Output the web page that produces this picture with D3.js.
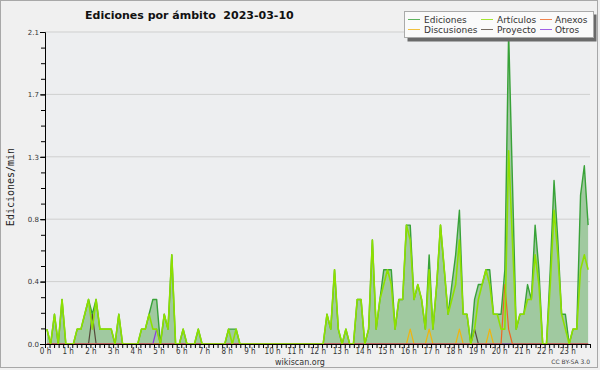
<!DOCTYPE html>
<html><head><meta charset="utf-8">
<script src="https://cdn.jsdelivr.net/npm/d3@7"></script>
<style>body{margin:0;background:#f0f0f0} svg{display:block} text{white-space:pre}</style>
</head><body><svg id="c" width="600" height="370"></svg>
<script>
const title = "Ediciones por ámbito  2023-03-10";
const yTitle = "Ediciones/min";
const seriesNames = ["Ediciones","Artículos","Anexos","Discusiones","Proyecto","Otros"];
const hourLabels = ["0 h","1 h","2 h","3 h","4 h","5 h","6 h","7 h","8 h","9 h","10 h","11 h","12 h","13 h","14 h","15 h","16 h","17 h","18 h","19 h","20 h","21 h","22 h","23 h"];
const yTickLabels = ["0.0","0.4","0.8","1.3","1.7","2.1"];
const yMax = 2.1;
// 10-minute bins, edits per minute (144 values)
const ediciones = [
0.1,0,0.2,0,0.3,0,0,0,0.1,0.1,
0.2,0.3,0.2,0.3,0.1,0.1,0.1,0.1,0,0.2,
0,0,0,0,0,0.1,0.1,0.2,0.3,0.3,
0,0.2,0.1,0.6,0,0,0.1,0,0,0,
0.1,0,0,0,0,0,0,0,0.1,0.1,
0.1,0,0,0,0,0,0,0,0,0,
0,0,0,0,0,0,0,0,0,0,
0,0,0,0,0.2,0.1,0.5,0.1,0,0.1,
0,0,0.3,0.3,0,0.1,0.7,0.1,0.3,0.5,
0.5,0.5,0.1,0.3,0.3,0.8,0.8,0.3,0.4,0.3,
0.1,0.6,0.1,0.4,0.8,0.5,0.2,0.4,0.6,0.9,
0.2,0.2,0,0.3,0.4,0.4,0.5,0.5,0.2,0.2,
0.2,0.5,2.1,1.1,0.1,0.2,0.2,0.4,0.3,0.8,
0.5,0,0,0.5,1.1,0.7,0.2,0.2,0,0.1,
0.1,1.0,1.2,0.8];
const articulos = [
0.1,0,0.2,0,0.3,0,0,0,0.1,0.1,
0.2,0.3,0.1,0.3,0.1,0.1,0.1,0.1,0,0.2,
0,0,0,0,0,0.1,0.1,0.2,0.1,0.1,
0,0.2,0.1,0.6,0,0,0.1,0,0,0,
0.1,0,0,0,0,0,0,0,0.1,0,
0.1,0,0,0,0,0,0,0,0,0,
0,0,0,0,0,0,0,0,0,0,
0,0,0,0,0.2,0.1,0.5,0.1,0,0.1,
0,0,0.3,0.3,0,0.1,0.7,0.1,0.3,0.4,
0.5,0.4,0.1,0.3,0.3,0.8,0.7,0.3,0.4,0.3,
0.1,0.5,0.1,0.4,0.8,0.5,0.2,0.3,0.4,0.7,
0.2,0.2,0,0.1,0.3,0.4,0.5,0.4,0.2,0.2,
0.1,0.1,1.3,0.7,0.1,0.2,0.2,0.3,0.3,0.6,
0.4,0,0,0.4,0.9,0.6,0.2,0.1,0,0.1,
0.1,0.5,0.6,0.5];
const anexos = [
0,0,0,0,0,0,0,0,0,0, 0,0,0,0,0,0,0,0,0,0, 0,0,0,0,0,0,0,0,0,0, 0,0,0,0,0,0,0,0,0,0,
0,0,0,0,0,0,0,0,0,0, 0,0,0,0,0,0,0,0,0,0, 0,0,0,0,0,0,0,0,0,0, 0,0,0,0,0,0,0,0,0,0,
0,0,0,0,0,0,0,0,0,0, 0,0,0,0,0,0,0,0,0,0, 0,0,0,0,0,0,0,0,0,0, 0,0,0,0,0,0,0,0,0,0,
0,0.4,0.1,0,0,0,0,0,0,0, 0,0,0,0,0,0,0,0,0,0, 0,0,0,0];
const discusiones = [
0,0,0,0,0,0,0,0,0,0, 0,0,0,0,0,0,0,0,0,0, 0,0,0,0,0,0,0,0,0,0, 0,0,0,0,0,0,0,0,0,0,
0,0,0,0,0,0,0,0,0,0, 0,0,0,0,0,0,0,0,0,0, 0,0,0,0,0,0,0,0,0,0, 0,0,0,0,0,0,0,0,0,0,
0,0,0,0,0,0,0,0,0,0, 0,0,0,0,0,0,0.1,0,0,0, 0,0.1,0,0,0,0,0,0,0,0.1, 0,0,0,0,0,0,0,0.1,0,0,
0,0,0,0,0,0,0,0,0,0, 0,0,0,0,0,0,0,0,0,0, 0,0,0,0];
const proyecto = [
0,0,0,0,0,0,0,0,0,0, 0,0,0.2,0,0,0,0,0,0,0, 0,0,0,0,0,0,0,0,0,0, 0,0,0,0,0,0,0,0,0,0,
0,0,0,0,0,0,0,0,0,0, 0,0,0,0,0,0,0,0,0,0, 0,0,0,0,0,0,0,0,0,0, 0,0,0,0,0,0,0,0,0,0,
0,0,0,0,0,0,0,0,0,0, 0,0,0,0,0,0,0,0,0,0, 0,0,0,0,0,0,0,0,0,0, 0,0,0,0.1,0,0,0,0,0,0,
0,0,0,0,0,0,0,0,0,0, 0,0,0,0,0,0,0,0,0,0, 0,0,0,0];
const otros = [
0,0,0,0,0,0,0,0,0,0, 0,0,0,0,0,0,0,0,0,0, 0,0,0,0,0,0,0,0,0,0.1, 0,0,0,0,0,0,0,0,0,0,
0,0,0,0,0,0,0,0,0,0, 0,0,0,0,0,0,0,0,0,0, 0,0,0,0,0,0,0,0,0,0, 0,0,0,0,0,0,0,0,0,0,
0,0,0,0,0,0,0,0,0,0, 0,0,0,0,0,0,0,0,0,0, 0,0,0,0,0,0,0,0,0,0, 0,0,0,0,0,0,0,0,0,0,
0,0,0,0,0,0,0,0,0,0, 0,0,0,0,0,0,0,0,0,0, 0,0,0,0];

const colors = {Ediciones:"#38a238", Artículos:"#8ee000", Anexos:"#ee6622", Discusiones:"#f0b410", Proyecto:"#55483a", Otros:"#8a3ae0"};
const fillColor = "#a0c9a0";

const svg = d3.select("#c");
const L=45, R=590, T=32, B=344;
const x = d3.scaleLinear().domain([0,24]).range([L,R]);
const y = d3.scaleLinear().domain([0,yMax]).range([B,T]);
const binH = 1/6;

svg.append("rect").attr("x",0.5).attr("y",0.5).attr("width",597).attr("height",367)
  .attr("fill","#f0f0f0").attr("stroke","#a8a8a8");
svg.append("rect").attr("x",L).attr("y",T).attr("width",R-L).attr("height",B-T).attr("fill","#edeef0");

const majorVals = yTickLabels.map((_,k)=>yMax*k/(yTickLabels.length-1));
svg.append("g").selectAll("line").data(majorVals.slice(1)).join("line")
  .attr("x1",L).attr("x2",R).attr("y1",d=>y(d)).attr("y2",d=>y(d))
  .attr("stroke","#cfcfcf").attr("stroke-width",1);

const series = {Ediciones:ediciones, Artículos:articulos, Anexos:anexos, Discusiones:discusiones, Proyecto:proyecto, Otros:otros};
const px = (d,i)=>x((i+0.5)*binH);
const area = d3.area().x(px).y0(B).y1(d=>y(d));
const line = d3.line().x(px).y(d=>y(d));

svg.append("path").datum(ediciones).attr("d",area).attr("fill",fillColor);
const drawOrder = ["Ediciones","Discusiones","Proyecto","Otros","Anexos","Artículos"];
drawOrder.forEach(n=>{
  svg.append("path").datum(series[n]).attr("d",line).attr("fill","none")
    .attr("stroke",colors[n]).attr("stroke-width", n==="Artículos"?1.6:(n==="Ediciones"?1.4:1.2))
    .attr("stroke-linejoin","round");
});

// y axis
const minorY = d3.range(0,21).map(k=>yMax*k/20);
svg.append("g").attr("transform",`translate(${L},0)`)
  .call(d3.axisLeft(y).tickValues(minorY).tickSize(4).tickFormat(""))
  .call(g=>g.select(".domain").remove());
svg.append("g").attr("transform",`translate(${L},0)`)
  .call(d3.axisLeft(y).tickValues(majorVals).tickSize(5).tickPadding(1).tickFormat((d,i)=>yTickLabels[i]))
  .call(g=>{g.select(".domain").attr("stroke","#000");
    g.selectAll("text").attr("font-family","DejaVu Sans").attr("font-size","7px").attr("fill","#333");});

// x axis
const minorX = d3.range(0,121).map(k=>k/5);
svg.append("g").attr("transform",`translate(0,${B})`)
  .call(d3.axisBottom(x).tickValues(minorX).tickSize(4).tickFormat(""))
  .call(g=>g.select(".domain").attr("stroke","#000"));
svg.append("g").attr("transform",`translate(0,${B})`)
  .call(d3.axisBottom(x).tickValues(d3.range(24)).tickSize(0).tickPadding(4).tickFormat(i=>hourLabels[i]))
  .call(g=>{g.select(".domain").remove();
    g.selectAll("text").attr("font-family","'DejaVu Sans Condensed','DejaVu Sans'").attr("font-size","8px").attr("fill","#333");});

// texts
svg.append("text").attr("x",85).attr("y",18.5).attr("xml:space","preserve").text(title)
  .attr("font-family","DejaVu Sans").attr("font-weight","bold").attr("font-size","11px").attr("fill","#111");
svg.append("text").attr("transform","translate(13.5,187) rotate(-90)").attr("text-anchor","middle")
  .text(yTitle).attr("font-family","DejaVu Sans Mono").attr("font-size","10px").attr("fill","#222");
svg.append("text").attr("x",300).attr("y",364.5).attr("text-anchor","middle").text("wikiscan.org")
  .attr("font-family","DejaVu Sans").attr("font-size","8px").attr("fill","#333");
svg.append("text").attr("x",590).attr("y",364).attr("text-anchor","end").text("CC BY-SA 3.0")
  .attr("font-family","DejaVu Sans").attr("font-size","6px").attr("fill","#444");

// legend
const lg = svg.append("g");
lg.append("rect").attr("x",407.5).attr("y",14.5).attr("width",189).attr("height",27).attr("fill","#6a6a6a");
lg.append("rect").attr("x",404.5).attr("y",11.5).attr("width",189).attr("height",26).attr("fill","#fafafa").attr("stroke","#aaa");
const colX = [[408,420,424],[481,493,497],[540,552,555]];
const rowY = [19.5,29.5];
seriesNames.forEach((n,k)=>{
  const c = k%3, r = Math.floor(k/3);
  lg.append("line").attr("x1",colX[c][0]).attr("x2",colX[c][1]).attr("y1",rowY[r]).attr("y2",rowY[r])
    .attr("stroke",colors[n]).attr("stroke-width",1).attr("opacity",0.8);
  lg.append("text").attr("x",colX[c][2]).attr("y",rowY[r]+3.2).text(n)
    .attr("font-family","DejaVu Sans").attr("font-size","9px").attr("fill","#333");
});
</script></body></html>
